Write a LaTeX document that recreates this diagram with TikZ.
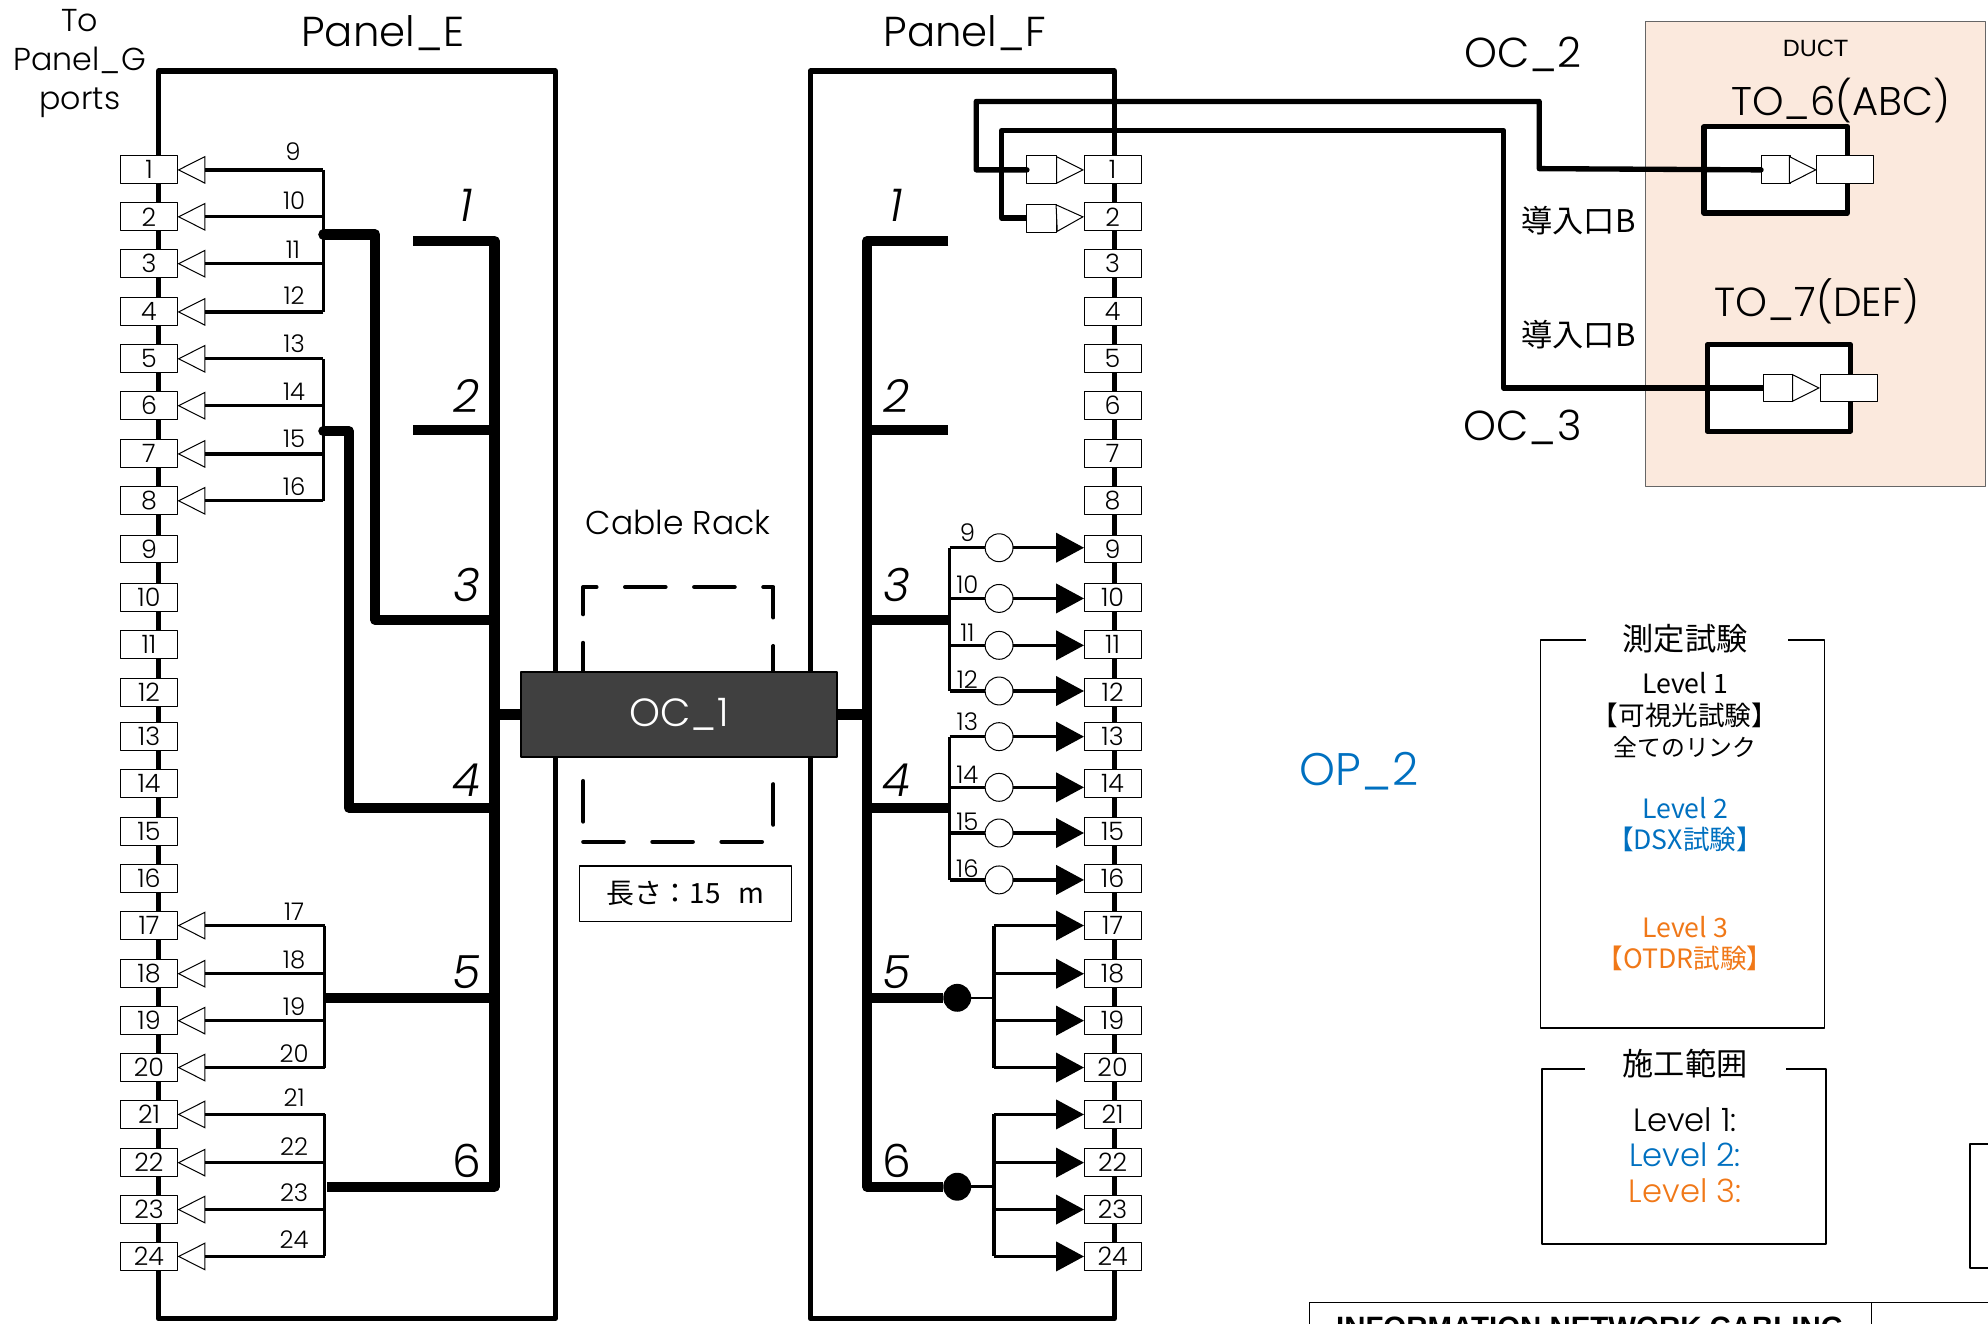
\documentclass[tikz,border=0pt]{standalone}
\usepackage{fontspec}
\setmainfont{Poppins}[UprightFont=* Light,ItalicFont=* Light Italic]
\newfontfamily\cjk{Noto Sans CJK JP}
\newfontfamily\arial{Liberation Sans}
\usetikzlibrary{arrows.meta,positioning}
\newcommand{\fsz}[1]{\fontsize{#1}{#1}\selectfont}
\definecolor{lvlblue}{HTML}{0070C0}
\definecolor{lvlorange}{HTML}{F07818}
\definecolor{ductfill}{HTML}{FBE9DD}
\definecolor{ocfill}{HTML}{404040}

\begin{document}
\begin{tikzpicture}[%
    x=0.5pt,
    y=-0.5pt,
    line join=round,
    frameline/.style={draw,line width=2pt},
    wire/.style={draw,line width=4pt},
    cablewire/.style={draw,line width=2.1pt},
    sigline/.style={draw,line width=1.3pt},
    port/.style={draw,fill=white,line width=0.4pt,inner sep=0pt,outer sep=0pt,minimum width=22.5pt,minimum height=11pt,font=\fsz{10}},
    plug/.style={port,minimum width=11.5pt},
    bulb/.style={draw,circle,fill=white,line width=0.4pt,inner sep=0pt,outer sep=0pt,minimum size=11pt},
    hubdot/.style={circle,fill=black,inner sep=0pt,outer sep=0pt,minimum size=11pt},
    opentip/.style={-{Triangle[length=11pt,width=11pt,fill=white,line width=0.4pt]}},
    solidtip/.style={-{Triangle[length=11pt,width=11.5pt]}},
    tobox/.style={draw,fill=white,line width=2pt,outer sep=0pt,minimum width=56.5pt,minimum height=34pt},
    wirenum/.style={font=\fsz{9.6},inner sep=0pt},
    bignum/.style={font=\fsz{18}\itshape,inner sep=0pt},
    title/.style={font=\fsz{16.5},inner sep=0pt},
    legendline/.style={draw,line width=0.7pt},
    note/.style={font=\cjk\fsz{10.5},inner sep=0pt}
    ]

    \useasboundingbox (0,0) rectangle (1568,1044);
    \clip (0,0) rectangle (1568,1044);

    \draw[frameline] (125,120) -- (125,56) -- (438,56) -- (438,1040) -- (125,1040) -- cycle;
    \draw[frameline] (639,1040) -- (639,56) -- (879,56) -- (879,1040) -- cycle;

    \node[title] (panelE) at (302,26) {Panel\_E};
    \node[title] (panelF) at (761,26) {Panel\_F};
    \node[font=\fsz{12.5},inner sep=0pt,align=center] (toG) at (63,50) {To\\[3pt]Panel\_G\\[3pt]ports};

    \foreach \n/\y in {1/134,2/171,3/208,4/246,5/283,6/320,7/358,8/395,9/433,10/471,11/508,12/546,13/581,14/618,15/656,16/693,17/730,18/768,19/805,20/842,21/879,22/917,23/954,24/991} {
        \node[port] (E\n) at (117.5,\y) {\n};
        \node[port] (F\n) at (877.5,\y) {\n};
    }

    \coordinate (hubA) at (255,133);
    \coordinate (hubB) at (255,283);
    \coordinate (hubC) at (256,731);
    \coordinate (hubD) at (256,879);
    \coordinate (busC) at (749,432);
    \coordinate (busD) at (749,581);
    \coordinate (busE) at (784,731);
    \coordinate (busF) at (784,880);

    \foreach \h/\a/\b in {hubA/1/4,hubB/5/8,hubC/17/20,hubD/21/24} {
        \draw[sigline] (\h |- E\a) -- (\h |- E\b);
        \foreach \n in {\a,...,\b} {
            \draw[sigline,opentip] (\h |- E\n) -- (E\n.east);
        }
    }

    \foreach \n/\x/\y in {9/231/120,10/232/158,11/231/197,12/232/233,13/232/271,14/232/309,15/232/346,16/232/384,17/232/719,18/232/757,19/232/794,20/232/831,21/232/866,22/232/904,23/232/941,24/232/978} {
        \node[wirenum] (numE\n) at (\x,\y) {\n};
    }

    \foreach \n/\y in {9/420,10/461,11/499,12/536,13/569,14/611,15/648,16/685} {
        \node[wirenum] (numF\n) at (763,\y) {\n};
    }

    \foreach \h/\n/\y in {busC/9/432,busC/10/472,busC/11/509,busC/12/545,busD/13/581,busD/14/621,busD/15/657,busD/16/694} {
        \node[bulb] (bulb\n) at (788,\y) {};
        \draw[sigline] (\h |- bulb\n) -- (bulb\n);
        \draw[sigline,solidtip] (bulb\n) -- (bulb\n -| F\n.west);
    }
    \draw[sigline] (busC |- bulb9) -- (busC |- bulb12);
    \draw[sigline] (busD |- bulb13) -- (busD |- bulb16);

    \foreach \h/\a/\b in {busE/17/20,busF/21/24} {
        \draw[sigline] (\h |- F\a) -- (\h |- F\b);
        \foreach \n in {\a,...,\b} {
            \draw[sigline,solidtip] (\h |- F\n) -- (F\n.west);
        }
    }

    \coordinate (trunkE) at (390,190);
    \coordinate (trunkF) at (684,190);
    \coordinate (endE) at (258,936);
    \coordinate (tapA) at (255,185);
    \coordinate (tapB) at (255,340);
    \coordinate (tapC) at (256,787);

    \foreach \n/\y in {1/190,2/339,3/489,4/637,5/787,6/936} {
        \coordinate (teeE\n) at (390,\y);
        \coordinate (teeF\n) at (684,\y);
    }

    \draw[wire] (326,190) -- (trunkE) -- (teeE6) -- (endE);
    \draw[wire] (326,339) -- (teeE2);
    \draw[wire,line cap=round] (tapA) -- ++(41,0) |- (teeE3);
    \draw[wire,line cap=round] (tapB) -- ++(20,0) |- (teeE4);
    \draw[wire] (tapC) -- (teeE5);

    \node[hubdot] (dotF5) at (755,787) {};
    \node[hubdot] (dotF6) at (755,936) {};

    \draw[wire] (748,190) -- (trunkF) -- (teeF6) -- (dotF6);
    \draw[wire] (teeF2) -- (748,339);
    \draw[wire] (teeF3) -- (busC |- teeF3);
    \draw[wire] (teeF4) -- (busC |- teeF4);
    \draw[wire] (teeF5) -- (dotF5);
    \draw[line width=1pt] (dotF5) -- (busE |- dotF5);
    \draw[line width=1pt] (dotF6) -- (busE |- dotF6);

    \foreach \n/\y/\st in {1/162/\itshape,2/312/\itshape,3/461/\itshape,4/615/\itshape,5/767/\itshape,6/916/\upshape} {
        \node[bignum] (numG\n) at (368,\y) {\st\n};
        \node[bignum] (numH\n) at (707,\y) {\st\n};
    }

    \draw[line width=1.6pt,line cap=round,dash pattern=on 16pt off 11.25pt] (460,664) -- (610,664) -- (610,463) -- (460,463) -- cycle;

    \node[title,font=\fsz{13}] (rack) at (535,412) {Cable Rack};
    \node[draw,fill=ocfill,line width=1pt,text=white,outer sep=0pt,minimum width=124.5pt,minimum height=33.5pt,font=\fsz{15.5}] (oc1) at (535.5,563.5) {OC\_1};
    \draw[wire] (trunkE |- oc1) -- (oc1.west);
    \draw[wire] (oc1.east) -- (trunkF |- oc1);
    \node[draw,line width=0.5pt,minimum width=83.5pt,minimum height=22pt,inner sep=0pt,font=\cjk\fsz{11}] (length) at (540.5,705) {長さ：15\hspace{7pt}m};

    \node[draw=black!60,fill=ductfill,line width=0.4pt,outer sep=0pt,minimum width=134pt,minimum height=183.5pt] (duct) at (1432,200.5) {};
    \node[font=\arial\fsz{9.3},inner sep=0pt] (ductlab) at (1432,38) {DUCT};

    \node[tobox] (to6) at (1400.5,134) {};
    \node[tobox] (to7) at (1403,306) {};
    \node[plug] (plug6) at (1400.5,134) {};
    \node[port,anchor=west] (port6) at (1433,134) {};
    \node[plug] (plug7) at (1402.5,306) {};
    \node[port,anchor=west] (port7) at (1435.5,306) {};
    \draw[opentip] (plug6.east) -- (port6.west);
    \draw[opentip] (plug7.east) -- (port7.west);

    \node[plug] (plugF1) at (821.5,134) {};
    \node[plug] (plugF2) at (821.5,172) {};
    \draw[opentip] (plugF1.east) -- (F1.west);
    \draw[opentip] (plugF2.east) -- (F2.west);

    \draw[cablewire,line cap=round] (plugF1.west) -- (770,134) -- (770,80) -- (1214,80) -- (1214,133) -- (plug6.west);
    \draw[cablewire] (plugF2.west) -- (790,172) -- (790,103) -- (1186,103) -- (1186,306) -- (plug7.west);

    \node[title] (oc2) at (1201,43) {OC\_2};
    \node[title] (oc3) at (1201,337) {OC\_3};
    \node[title,font=\fsz{15.8}] (to6lab) at (1452,79) {TO\_6(ABC)};
    \node[title,font=\fsz{16}] (to7lab) at (1433,238) {TO\_7(DEF)};
    \node[note,font=\cjk\fsz{12.3}] (inletA) at (1245,174) {導入口B};
    \node[note,font=\cjk\fsz{12.3}] (inletB) at (1245,264) {導入口B};

    \node[title,font=\fsz{18},text=lvlblue] (op2) at (1072,608) {OP\_2};

    \draw[legendline] (1251,505) -- (1215,505) -- (1215,811) -- (1439,811) -- (1439,505) -- (1410,505);
    \node[note,font=\cjk\fsz{12.3}] (testtitle) at (1329,504) {測定試験};
    \node[note] (lv1a) at (1329,539) {Level 1};
    \node[note] (lv1b) at (1329,564) {【可視光試験】};
    \node[note,font=\cjk\fsz{9.4}] (lv1c) at (1329,589) {全てのリンク};
    \node[note,text=lvlblue] (lv2a) at (1329,637) {Level 2};
    \node[note,text=lvlblue] (lv2b) at (1329,662) {【DSX試験】};
    \node[note,text=lvlorange] (lv3a) at (1329,731) {Level 3};
    \node[note,text=lvlorange] (lv3b) at (1329,756) {【OTDR試験】};

    \draw[legendline] (1250,843) -- (1216,843) -- (1216,981) -- (1440,981) -- (1440,843) -- (1409,843);
    \node[note,font=\cjk\fsz{12.3}] (rangetitle) at (1329,839) {施工範囲};
    \node[font=\fsz{12.7},inner sep=0pt] (rng1) at (1329,883) {Level 1:};
    \node[font=\fsz{12.7},inner sep=0pt,text=lvlblue] (rng2) at (1329,911) {Level 2:};
    \node[font=\fsz{12.7},inner sep=0pt,text=lvlorange] (rng3) at (1329,939) {Level 3:};

    \draw[legendline] (1600,902) -- (1554,902) -- (1554,1000) -- (1600,1000);

    \draw[line width=0.4pt] (1033,1060) -- (1033,1027) -- (1600,1027);
    \draw[line width=0.4pt] (1476,1027) -- (1476,1060);
    \node[font=\arial\bfseries\fsz{11.6},inner sep=0pt] (block) at (1254,1047) {INFORMATION NETWORK CABLING};

\end{tikzpicture}
\end{document}
